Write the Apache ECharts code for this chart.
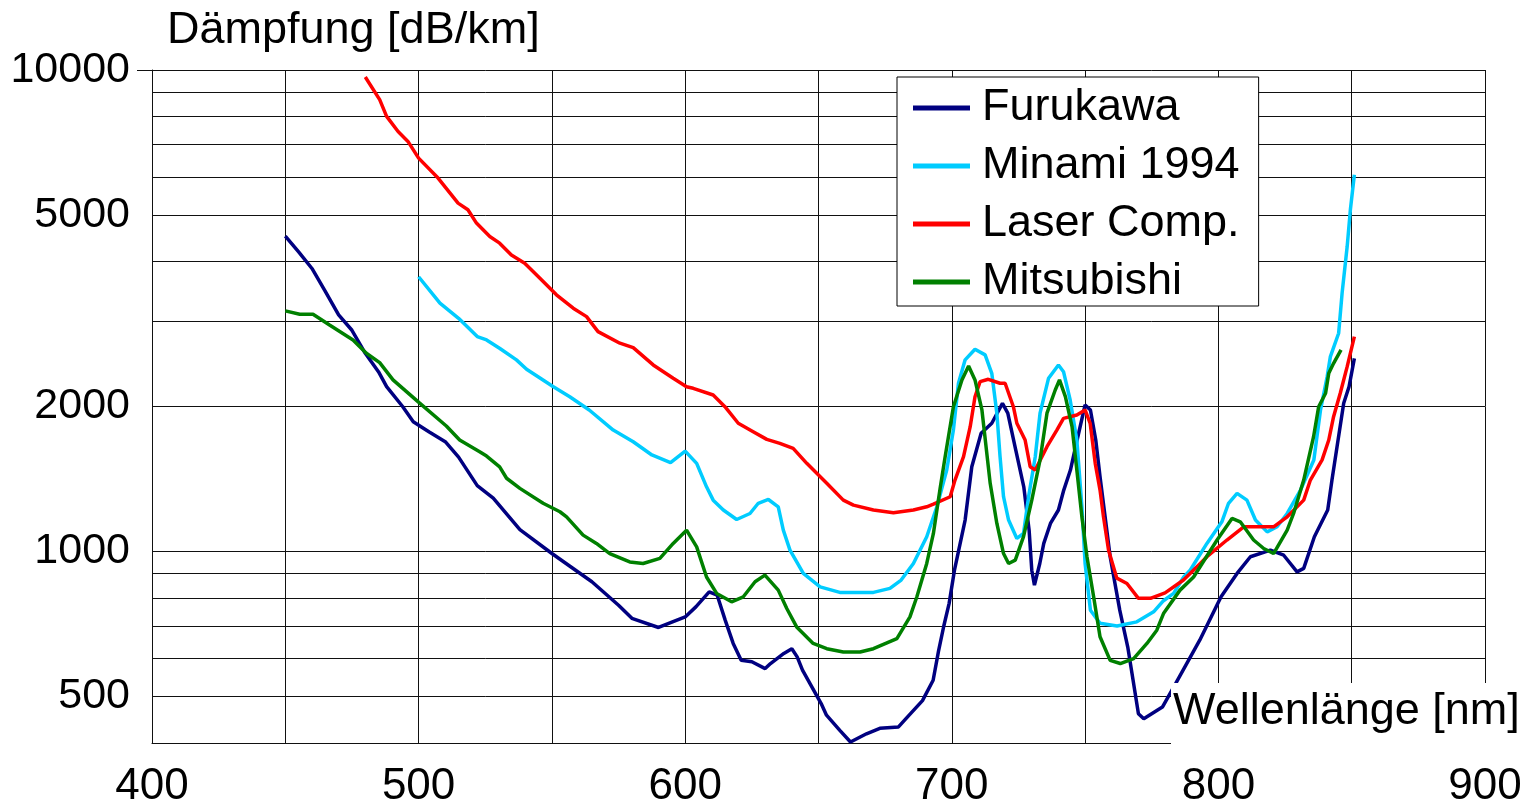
<!DOCTYPE html>
<html>
<head>
<meta charset="utf-8">
<title>Dämpfung von POF</title>
<script src="https://cdn.jsdelivr.net/npm/echarts@6/dist/echarts.min.js"></script>
<style>
  html, body { margin: 0; padding: 0; background: #fff; }
  #chart { width: 1537px; height: 806px; }
</style>
</head>
<body>
<div id="chart"></div>
<script>
// Attenuation spectra of PMMA polymer optical fibres: [wavelength nm, attenuation dB/km]
const furukawa = [
  [450,4520],[455,4190],[460,3870],[465,3470],[470,3100],[475,2880],[480,2580],[485,2360],
  [488,2200],[494,2000],[498,1860],[504,1770],[510,1690],[515,1570],[522,1370],[528,1290],
  [538,1110],[550,990],[565,865],[575,773],[580,726],[590,695],[600,731],[604,767],
  [609,824],[612,811],[615,720],[618,644],[621,594],[625,590],[630,571],[632,585],
  [637,614],[640,628],[642,604],[644,567],[651,483],[653,457],[658,425],[662,402],
  [668,418],[673,429],[680,432],[684,457],[689,490],[693,540],[695,620],[697,700],
  [699,780],[701,914],[705,1162],[707.5,1499],[711,1760],[715,1846],[719,2030],[721,1937],
  [724,1624],[727,1362],[729,1107],[730,914],[731,851],[733,944],[734.5,1039],[737,1143],
  [740,1219],[742,1341],[744.5,1476],[747,1704],[750,2015],[752,1967],[754,1704],[755.6,1429],
  [757.5,1180],[759.4,975],[763,755],[766,633],[768,540],[770,460],[772,449],[779,475],
  [784,532],[793,654],[801,805],[807,900],[812,975],[819.5,1006],[824.5,982],[829.5,907],
  [832,922],[836,1073],[841,1219],[842.6,1407],[844.5,1650],[847,2032],[849,2198],[851,2518]
];

const minami1994 = [
  [500,3720],[508,3280],[515,3050],[522,2794],[525.5,2750],[530.5,2640],[536.7,2500],[540.5,2390],
  [550.4,2200],[556.7,2096],[564,1967],[573,1787],[580.5,1690],[587.5,1586],[594.5,1530],[600,1616],
  [604.3,1524],[608,1362],[610.5,1278],[614.3,1219],[619.3,1165],[624.3,1199],[627.4,1259],[631.2,1282],
  [634.9,1238],[636.8,1107],[639.3,1006],[644.3,900],[650.6,844],[658,822],[670.6,822],[676.8,838],
  [681,872],[685.6,944],[690.6,1073],[694.4,1238],[698.1,1476],[700.6,1787],[702.5,2235],[705,2500],
  [708.7,2630],[712.5,2560],[715,2344],[716.9,1937],[718.1,1573],[719.4,1299],[721.3,1162],[724.4,1064],
  [726.9,1090],[728.8,1299],[731.3,1573],[733.1,1937],[736.3,2290],[740,2440],[741.9,2362],[744.4,2063],
  [746.9,1704],[748.8,1238],[750,944],[752,755],[755.6,709],[762,700],[769.4,714],[775.7,749],
  [779.4,790],[783.2,818],[787,885],[789.4,914],[795.7,1039],[801.3,1152],[803.8,1259],[807,1320],
  [810.7,1278],[813.9,1162],[818.3,1098],[822,1125],[825.8,1199],[830.8,1341],[835.8,1549],[838.3,1967],
  [840.8,2307],[842,2539],[845.1,2839],[846.4,3439],[848.3,4298],[849.5,5124],[851,6058]
];

const laserComp = [
  [480,9670],[485.4,8677],[488,8009],[492.3,7452],[496,7106],[500,6561],[507.3,5964],[514.8,5290],
  [518.5,5124],[521.7,4808],[526.7,4510],[530.4,4368],[534.8,4130],[539.8,3970],[545.5,3695],[551.7,3412],
  [558,3201],[563,3074],[567.3,2861],[575.5,2707],[580.5,2650],[588,2440],[595.5,2290],[600.5,2198],
  [603,2182],[610.5,2113],[614.9,1998],[619.9,1846],[625.5,1773],[630.6,1709],[635.5,1677],[640.5,1637],
  [645.6,1524],[653.1,1385],[659.3,1278],[663.1,1248],[670.6,1219],[678.1,1203],[685.6,1219],[690.6,1238],
  [693.1,1254],[699.4,1299],[701.2,1407],[704.4,1573],[706.9,1816],[708.7,2096],[710.6,2252],[713.7,2278],
  [718.1,2235],[720,2235],[723.1,1998],[724.4,1846],[727.5,1704],[729.4,1499],[731.3,1476],[735.7,1650],
  [739.4,1787],[741.9,1890],[746.9,1920],[750,1967],[751.9,1846],[753.8,1524],[755.6,1341],[756.9,1180],
  [758.8,1006],[761.9,880],[765.7,858],[770,799],[774.5,799],[780,820],[786.9,872],[793.2,944],
  [795.7,975],[803.2,1056],[809.5,1125],[820.7,1125],[825.8,1180],[832,1278],[834.5,1407],[838.9,1549],
  [841.4,1704],[843.2,1905],[845.7,2131],[848.3,2420],[851,2794]
];

const mitsubishi = [
  [450,3160],[455.4,3110],[460.4,3110],[466.6,2954],[475.4,2750],[480.4,2580],[485.4,2467],[490.4,2271],
  [500.4,2032],[510.4,1822],[515.4,1704],[522.9,1611],[525.5,1578],[530.4,1499],[533,1419],[538,1352],
  [546.7,1259],[553,1209],[555.5,1180],[561.7,1081],[566.7,1039],[571.7,990],[579.2,951],[584.2,944],
  [590.5,967],[595.5,1039],[600.5,1107],[604.3,1022],[608,885],[611.8,818],[617.4,786],[621.8,805],
  [626.2,865],[629.9,893],[634.9,831],[638.1,761],[641.8,697],[648,644],[653.1,628],[659.3,618],
  [665.6,618],[670.6,628],[679.4,659],[684.3,731],[686.9,805],[690.6,944],[693.1,1090],[695.6,1350],
  [697.5,1573],[700.6,1998],[703.8,2271],[706.3,2428],[708.7,2271],[711.3,1967],[714.4,1385],[716.9,1143],
  [719.4,990],[721.3,944],[723.8,959],[726.9,1073],[730,1278],[733.1,1549],[735.7,1937],[738.8,2164],
  [740.4,2271],[742.6,2096],[745.1,1816],[746.9,1476],[748.8,1180],[750.7,975],[753.2,805],[755.6,665],
  [759.4,594],[763.2,585],[768.2,599],[773.2,644],[776.9,686],[779.4,743],[785.6,831],[790.7,885],
  [799.5,1056],[805.1,1171],[808.2,1152],[813.2,1056],[817,1014],[820.7,990],[825.8,1107],[828.2,1199],
  [832,1407],[835.7,1731],[837.6,1998],[840.2,2131],[841.4,2344],[843.2,2459],[846,2621]
];

const seriesNames = ['Furukawa', 'Minami 1994', 'Laser Comp.', 'Mitsubishi'];
const seriesColors = ['#000080', '#00ccff', '#ff0000', '#008000'];
const seriesData = [furukawa, minami1994, laserComp, mitsubishi];

// Axis ticks
const xLabelValues = [400, 500, 600, 700, 800, 900];
const yGridValues = [400, 500, 600, 700, 800, 900, 1000, 2000, 3000, 4000, 5000, 6000, 7000, 8000, 9000, 10000];
const yLabelValues = [500, 1000, 2000, 5000, 10000];

const FONT = '"Liberation Sans", Arial, Helvetica, sans-serif';
const GRID_COLOR = '#111';

const chart = echarts.init(document.getElementById('chart'), null, { renderer: 'canvas' });

chart.setOption({
  animation: false,
  backgroundColor: '#fff',
  textStyle: { fontFamily: FONT },
  title: [
    {
      text: 'Dämpfung [dB/km]',
      left: 167,
      top: 6,
      padding: 0,
      textStyle: { fontFamily: FONT, fontSize: 45, fontWeight: 'normal', color: '#000', lineHeight: 50 }
    },
    {
      text: 'Wellenlänge [nm]',
      left: 1171,
      top: 683,
      padding: [4, 6, 10, 2],
      backgroundColor: '#fff',
      textStyle: { fontFamily: FONT, fontSize: 45, fontWeight: 'normal', color: '#000', lineHeight: 50 }
    }
  ],
  legend: {
    orient: 'vertical',
    left: 897,
    top: 77,
    padding: [7, 19, 0, 16],
    itemGap: 10,
    itemWidth: 57,
    itemHeight: 5,
    icon: 'rect',
    backgroundColor: '#fff',
    borderColor: '#000',
    borderWidth: 1,
    textStyle: { fontFamily: FONT, fontSize: 45, color: '#000', lineHeight: 48, padding: [0, 0, 0, 7] },
    data: seriesNames
  },
  grid: {
    left: 152,
    right: 52,
    top: 70,
    bottom: 63,
    containLabel: false,
    outerBoundsMode: 'none'
  },
  xAxis: {
    type: 'value',
    min: 400,
    max: 900,
    interval: 50,
    axisLine: { show: true, lineStyle: { color: GRID_COLOR, width: 1 } },
    axisTick: { show: false },
    splitLine: { show: true, lineStyle: { color: GRID_COLOR, width: 1 } },
    axisLabel: {
      customValues: xLabelValues,
      margin: 22,
      fontFamily: FONT,
      fontSize: 44,
      color: '#000'
    }
  },
  yAxis: [
    {
      type: 'log',
      logBase: 10,
      min: 400,
      max: 10000,
      axisLine: { show: true, lineStyle: { color: GRID_COLOR, width: 1 } },
      axisTick: { show: false, customValues: yGridValues },
      splitLine: { show: true, lineStyle: { color: GRID_COLOR, width: 1 } },
      axisLabel: {
        customValues: yLabelValues,
        margin: 22,
        padding: [6, 0, 0, 0],
        fontFamily: FONT,
        fontSize: 43,
        color: '#000',
        formatter: function (v) { return String(Math.round(v)); }
      }
    },
    {
      type: 'log',
      logBase: 10,
      min: 400,
      max: 10000,
      position: 'left',
      axisLine: { show: false },
      axisTick: { show: true, length: 15, customValues: [10000], lineStyle: { color: GRID_COLOR, width: 1 } },
      splitLine: { show: false },
      axisLabel: { show: false }
    }
  ],
  series: seriesData.map(function (d, i) {
    return {
      name: seriesNames[i],
      type: 'line',
      data: d,
      showSymbol: false,
      symbol: 'none',
      smooth: false,
      lineStyle: { color: seriesColors[i], width: 3.5 },
      itemStyle: { color: seriesColors[i] },
      z: 3
    };
  })
});
</script>
</body>
</html>
